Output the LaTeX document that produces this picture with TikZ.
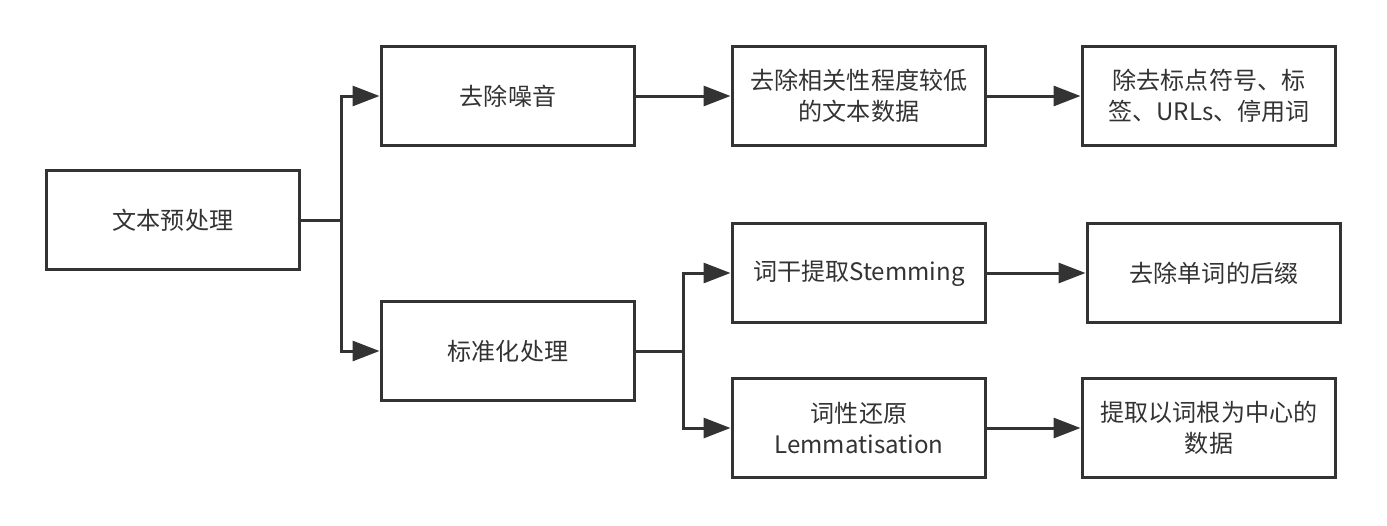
\documentclass[tikz,border=0pt]{standalone}
\usepackage{fontspec}
\setmainfont{Noto Sans CJK SC}
\usepackage{xcolor}
\usepackage{tikz}
\usetikzlibrary{arrows.meta,positioning}
\definecolor{inkgray}{HTML}{333333}
\tikzset{
  stepbox/.style = {draw=inkgray, line width=0.06cm, fill=white, text=inkgray,
                    minimum width=5.08cm, minimum height=2cm, inner sep=0pt,
                    align=center, font=\fontsize{13.7}{17.5}\selectfont},
  flow/.style    = {-{Triangle[length=0.54cm,width=0.4cm]}, line width=0.06cm,
                    inkgray},
  link/.style    = {line width=0.06cm, inkgray},
}
\begin{document}
\begin{tikzpicture}[x=0.02cm, y=-0.02cm]
\useasboundingbox (0,0) rectangle (1387,525);
\node[stepbox] (pre)    at (173, 220) {文本预处理};
\node[stepbox] (noise)  at (508, 96)  {去除噪音};
\node[stepbox] (norm)   at (508, 351) {标准化处理};
\node[stepbox] (lowrel) at (859, 96)  {去除相关性程度较低\\的文本数据};
\node[stepbox] (punct)  at (1209, 96) {除去标点符号、标\\签、URLs、停用词};
\node[stepbox] (stem)   at (859, 273) {词干提取Stemming};
\node[stepbox] (suffix) at (1214, 273) {去除单词的后缀};
\node[stepbox] (lemma)  at (859, 428) {词性还原\\Lemmatisation};
\node[stepbox] (root)   at (1209, 428) {提取以词根为中心的\\数据};
\coordinate (fork1) at (341, 220);
\coordinate (fork2) at (683, 351);
% branches
\draw[link] (pre.east) -- (fork1);
\draw[flow] (fork1) |- (noise.west);
\draw[flow] (fork1) |- (norm.west);
\draw[link] (norm.east) -- (fork2);
\draw[flow] (fork2) |- (stem.west);
\draw[flow] (fork2) |- (lemma.west);
% chains
\draw[flow] (noise) -- (lowrel);
\draw[flow] (lowrel) -- (punct);
\draw[flow] (stem) -- (suffix);
\draw[flow] (lemma) -- (root);
\end{tikzpicture}
\end{document}
